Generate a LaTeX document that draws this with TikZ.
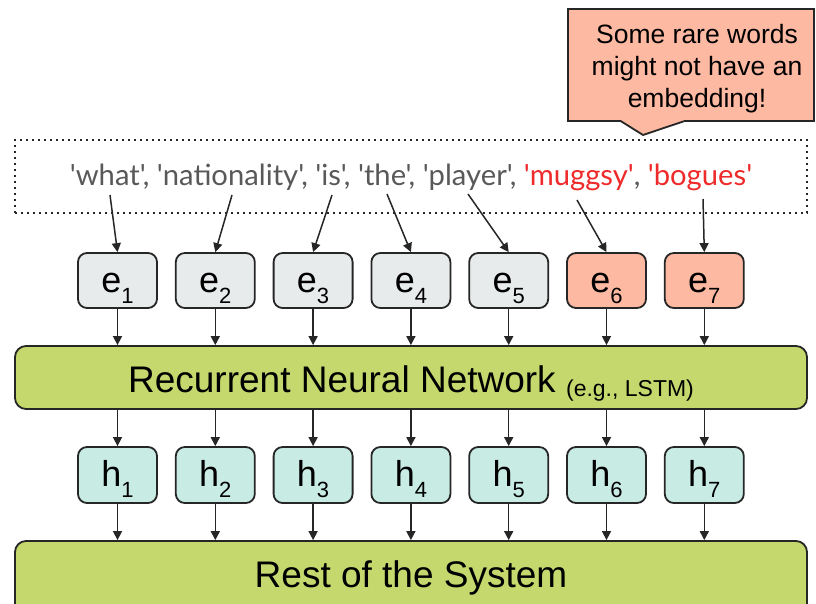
\documentclass[tikz,border=0pt]{standalone}
\usepackage{fontspec}
\setmainfont{Liberation Sans}
\newfontfamily\tokenfont{Lato}
\usetikzlibrary{arrows.meta,shapes.callouts}

\definecolor{boxline}{HTML}{262626}
\definecolor{embgray}{HTML}{E8EBEC}
\definecolor{embred}{HTML}{FDB9A2}
\definecolor{hidteal}{HTML}{C8ECE4}
\definecolor{netgreen}{HTML}{C5D86D}
\definecolor{tokgray}{HTML}{595959}
\definecolor{tokred}{HTML}{EE2A2A}

% lowered index digit next to the vector letter
\newcommand{\idx}[1]{\raisebox{-11pt}{\fontsize{22}{22}\selectfont #1}}
% straight typewriter quote
\newcommand{\q}{\char"27\relax}

\begin{document}
\begin{tikzpicture}[x=1pt,y=-1pt,
  cell/.style={draw=boxline, line width=1.8pt, rounded corners=9pt,
    minimum width=79pt, minimum height=55pt, inner sep=0pt,
    text height=25pt, text depth=2pt, font=\fontsize{36}{36}\selectfont},
  emb/.style={cell, fill=embgray},
  rare/.style={cell, fill=embred},
  hid/.style={cell, fill=hidteal, minimum height=56pt},
  layer/.style={draw=boxline, line width=1.8pt, rounded corners=11pt,
    fill=netgreen, minimum width=792pt, inner sep=0pt},
  arr/.style={draw=boxline, line width=1.5pt, -{Triangle[length=9pt,width=9pt]}},
]
\useasboundingbox (0,0) rectangle (816,603);

% callout balloon and its text
\node[rectangle callout, draw=boxline, line width=1.8pt, fill=embred,
  minimum width=246pt, minimum height=112pt, inner sep=0pt,
  callout absolute pointer={(643,135)}, callout pointer width=64pt]
  (note) at (691,65) {};
\node[align=center, inner sep=0pt, font=\fontsize{26.5}{32}\selectfont]
  (notetext) at (697,69) {Some rare words\\might not have an\\embedding!};

% token list
\node[draw=boxline, line width=1.6pt, dash pattern=on 1.6pt off 4.4pt,
  minimum width=792pt, minimum height=73pt] (frame) at (411,176.5) {};
\node[anchor=base, inner sep=0pt, text=tokgray,
  font=\tokenfont\fontsize{29.2}{29.2}\selectfont] (words) at (411,185)
  {\q what\q, \q nationality\q, \q is\q, \q the\q, \q player\q,
   \textcolor{tokred}{\q muggsy\q}, \textcolor{tokred}{\q bogues\q}};

\coordinate (w1) at (110,195);
\coordinate (w2) at (232,195);
\coordinate (w3) at (332,195);
\coordinate (w4) at (387,194);
\coordinate (w5) at (468,194);
\coordinate (w6) at (577,200);
\coordinate (w7) at (703,199);

% embeddings and hidden states
\foreach \i/\x/\s in {1/117.5/emb, 2/215.3/emb, 3/313.1/emb, 4/410.9/emb,
                      5/508.7/emb, 6/606.5/rare, 7/704.3/rare} {
  \node[\s] (e\i) at (\x,280.5) {e\idx{\i}};
  \node[hid] (h\i) at (\x,475) {h\idx{\i}};
}

% layers
\node[layer, minimum height=63pt] (rnn) at (411,377.5) {};
\node[anchor=base, inner sep=0pt] (rnntext) at (411,392)
  {\fontsize{37}{37}\selectfont Recurrent Neural Network
   \raisebox{-4pt}{\fontsize{23}{23}\selectfont (e.g., LSTM)}};
\node[layer, minimum height=100pt] (rest) at (411,591) {};
\node[anchor=base, inner sep=0pt] (resttext) at (411,587)
  {\fontsize{37}{37}\selectfont Rest of the System};

% connectors
\foreach \i in {1,...,7} {
  \draw[arr] (w\i) -- (e\i.north);
  \draw[arr] (e\i.south) -- (e\i.south |- rnn.north);
  \draw[arr] (h\i.north |- rnn.south) -- (h\i.north);
  \draw[arr] (h\i.south) -- (h\i.south |- rest.north);
}
\end{tikzpicture}
\end{document}
